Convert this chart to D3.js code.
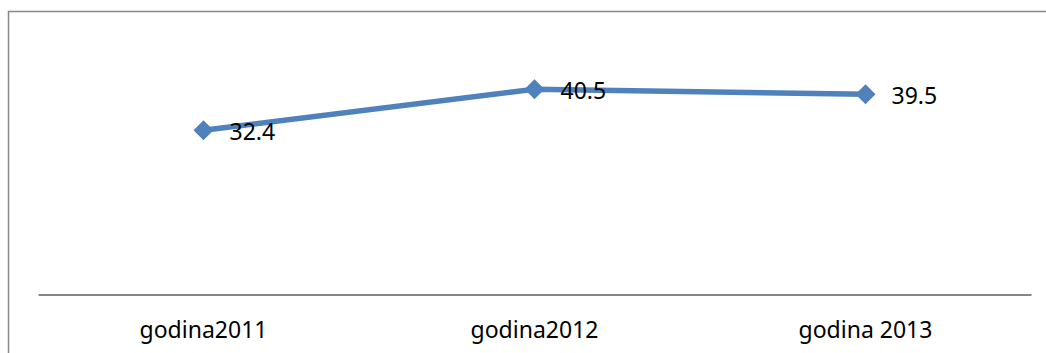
<!DOCTYPE html>
<html>
<head>
    <meta charset='utf-8' />
    <title></title>
    <style>
      body{ margin:0; background:#fff; }
      text{ font-family: 'Noto Sans', 'Open Sans', sans-serif; font-size:23px; fill:#000; }
    </style>
</head>
<body>
<script src="https://d3js.org/d3.v7.min.js"></script>
<script>

let categories = ['godina2011', 'godina2012', 'godina 2013']
let values = [32.4, 40.5, 39.5]
let labels = ['32.4', '40.5', '39.5']

let width = 1046, height = 353

let svg = d3.select('body').append('svg').attr('width', width).attr('height', height)

// chart frame (only top and left edges visible)
svg.append('path')
  .attr('d', 'M8.5,' + height + 'V11.5H' + width)
  .attr('fill', 'none')
  .attr('stroke', '#878787')
  .attr('stroke-width', 1.5)

let x = d3.scaleBand().domain(categories).range([38, 1031]),
  y = d3.scaleLinear().domain([0, 50]).range([294.5, 41])

let xAxis = svg.append('g')
  .attr('transform', 'translate(0,' + y(0) + ')')
  .call(d3.axisBottom(x).tickSize(0).tickPadding(27))

xAxis.select('.domain').attr('stroke', '#868686').attr('stroke-width', 1.8)
xAxis.selectAll('text')
  .style('font-size', '23px')
  .style('font-family', "'Noto Sans', sans-serif")
  .attr('fill', '#000')

let cx = d => x(d) + x.bandwidth() / 2

let line = d3.line()
  .x((d, i) => cx(categories[i]))
  .y(d => y(d))

svg.append('path')
  .datum(values)
  .attr('d', line)
  .attr('fill', 'none')
  .attr('stroke', '#4f81bd')
  .attr('stroke-width', 5.5)
  .attr('stroke-linejoin', 'round')

let sym = d3.symbol().type(d3.symbolSquare).size(200)

svg.append('g').selectAll('path').data(values).enter().append('path')
  .attr('d', sym)
  .attr('transform', (d, i) => 'translate(' + cx(categories[i]) + ',' + y(d) + ') rotate(45)')
  .attr('fill', '#4f81bd')

svg.append('g').selectAll('text').data(values).enter().append('text')
  .attr('x', (d, i) => cx(categories[i]) + 26)
  .attr('y', d => y(d) + 10)
  .text((d, i) => labels[i])

</script>
</body>
</html>
